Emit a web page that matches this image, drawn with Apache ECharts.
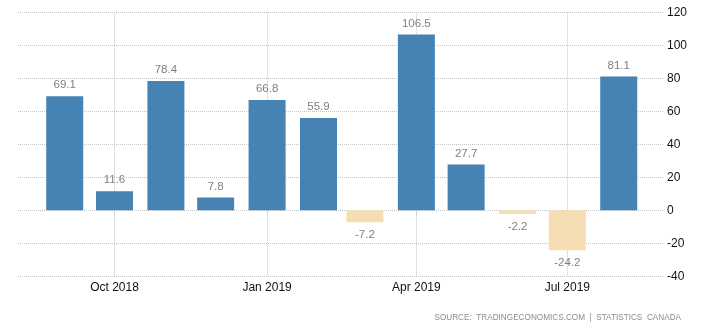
<!DOCTYPE html>
<html>
<head>
<meta charset="utf-8">
<script src="https://cdn.jsdelivr.net/npm/echarts@6/dist/echarts.min.js"></script>
<style>
  html, body { margin: 0; padding: 0; background: #fff; }
  #chart { width: 713px; height: 330px; }
</style>
</head>
<body>
<div id="chart"></div>
<script>
// Data
const months = [
  [2018, 9], [2018, 10], [2018, 11], [2018, 12],
  [2019, 1], [2019, 2], [2019, 3], [2019, 4],
  [2019, 5], [2019, 6], [2019, 7], [2019, 8]
];
const values = [69.1, 11.6, 78.4, 7.8, 66.8, 55.9, -7.2, 106.5, 27.7, -2.2, -24.2, 81.1];
const tickMonths = [[2018, 10], [2019, 1], [2019, 4], [2019, 7]];
const tickLabels = ['Oct 2018', 'Jan 2019', 'Apr 2019', 'Jul 2019'];
const yTicks = [-40, -20, 0, 20, 40, 60, 80, 100, 120];
const sourceText = 'SOURCE:  TRADINGECONOMICS.COM  |  STATISTICS  CANADA';

const ts = (ym) => Date.UTC(ym[0], ym[1] - 1, 1);
const tickValues = tickMonths.map(ts);

const POS = '#4682B4';
const NEG = '#F5DEB3';
const GRID = '#c4c4c4';

const seriesData = months.map((m, i) => {
  const v = values[i];
  return {
    value: [ts(m), v],
    itemStyle: { color: v >= 0 ? POS : NEG },
    label: {
      position: v >= 0 ? 'top' : 'bottom',
      distance: v >= 0 ? 5 : 7
    }
  };
});

const chart = echarts.init(document.getElementById('chart'), null, { renderer: 'canvas' });
chart.setOption({
  animation: false,
  backgroundColor: '#ffffff',
  grid: { left: 18, right: 49, top: 12.3, bottom: 53.7, containLabel: false },
  xAxis: {
    type: 'value',
    min: Date.UTC(2018, 7, 3, 20),
    max: Date.UTC(2019, 7, 28, 7),
    axisLine: { show: false },
    axisTick: {
      show: true,
      customValues: tickValues,
      length: 5,
      lineStyle: { color: GRID, type: [1, 1], width: 1 }
    },
    axisLabel: {
      customValues: tickValues,
      showMinLabel: true,
      showMaxLabel: true,
      color: '#111',
      fontSize: 12,
      fontFamily: 'Liberation Sans, Arial, sans-serif',
      margin: 5,
      formatter: (val) => {
        const idx = tickValues.indexOf(val);
        return idx >= 0 ? tickLabels[idx] : '';
      }
    },
    splitLine: {
      show: true,
      lineStyle: { color: GRID, type: [1, 1], width: 1 }
    }
  },
  yAxis: {
    type: 'value',
    position: 'right',
    min: yTicks[0],
    max: yTicks[yTicks.length - 1],
    interval: 20,
    axisLine: { show: false },
    axisTick: { show: false },
    axisLabel: {
      color: '#111',
      fontSize: 12,
      fontFamily: 'Liberation Sans, Arial, sans-serif',
      margin: 3
    },
    splitLine: {
      show: true,
      lineStyle: { color: GRID, type: [1, 1], width: 1 }
    }
  },
  series: [{
    type: 'bar',
    barWidth: 37,
    data: seriesData,
    label: {
      show: true,
      color: '#808080',
      fontSize: 11.5,
      fontFamily: 'Liberation Sans, Arial, sans-serif',
      formatter: (p) => p.value[1].toFixed(1)
    }
  }],
  graphic: [{
    type: 'text',
    right: 32,
    bottom: 8,
    style: {
      text: sourceText,
      fill: '#8c8c8c',
      fontSize: 8.2,
      fontFamily: 'Liberation Sans, Arial, sans-serif'
    }
  }]
});
</script>
</body>
</html>
